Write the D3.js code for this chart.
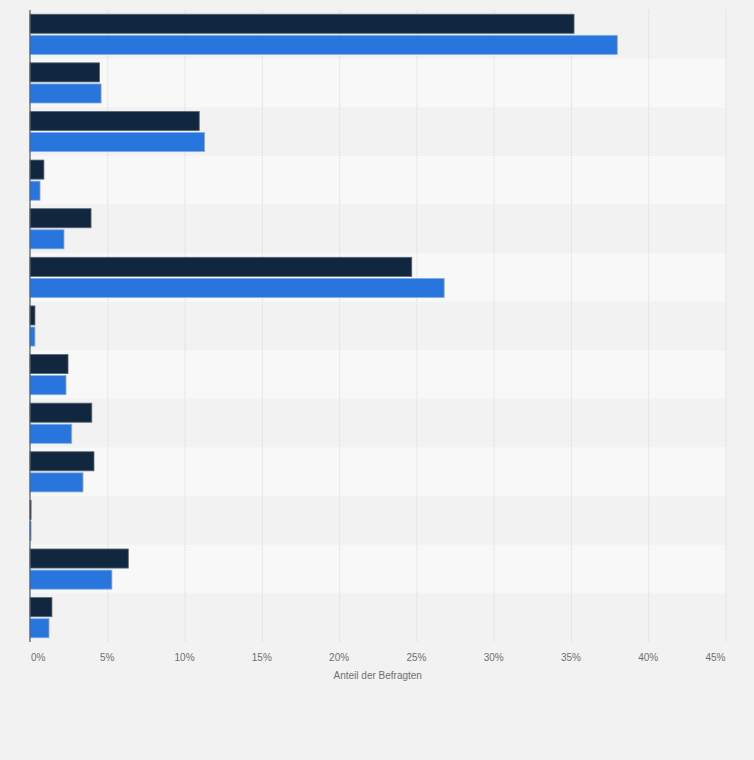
<!DOCTYPE html>
<html>
<head>
<meta charset="utf-8">
<script src="https://cdn.jsdelivr.net/npm/d3@7"></script>
<style>
  body { margin: 0; background: #f2f2f2; }
  svg { display: block; font-family: 'Liberation Sans', Arial, sans-serif; }
  .tick-label, .axis-title { fill: #6f6f6f; font-size: 10px; }
</style>
</head>
<body>
<div id="chart"></div>
<script>
// categories carry no visible labels in the source chart
const categories = ['K1', 'K2', 'K3', 'K4', 'K5', 'K6', 'K7', 'K8', 'K9', 'K10', 'K11', 'K12', 'K13'];
const seriesNames = ['Serie 1', 'Serie 2'];
const seriesDark = [35.2, 4.5, 10.95, 0.9, 3.95, 24.7, 0.32, 2.46, 4.0, 4.14, 0.07, 6.36, 1.42];
const seriesBlue = [38.0, 4.6, 11.3, 0.65, 2.2, 26.8, 0.32, 2.33, 2.7, 3.43, 0.07, 5.3, 1.23];
const tickValues = [0, 5, 10, 15, 20, 25, 30, 35, 40, 45];
const tickLabels = ['0%', '5%', '10%', '15%', '20%', '25%', '30%', '35%', '40%', '45%'];
const axisTitle = 'Anteil der Befragten';

const width = 754;
const height = 760;
const margin = { top: 10, right: 28.5, bottom: 118, left: 30 };
const colors = ['#10273f', '#2876dd'];
const strokes = ['#5b6878', '#7fb0ef'];

const svg = d3.select('#chart')
  .append('svg')
  .attr('width', width)
  .attr('height', height)
  .attr('viewBox', `0 0 ${width} ${height}`);

svg.append('rect')
  .attr('width', width)
  .attr('height', height)
  .attr('fill', '#f2f2f2');

const innerW = width - margin.left - margin.right;
const innerH = height - margin.top - margin.bottom;

const x = d3.scaleLinear()
  .domain([0, 45])
  .range([margin.left, margin.left + innerW]);

const y = d3.scaleBand()
  .domain(categories)
  .range([margin.top, margin.top + innerH])
  .padding(0);

const ySub = d3.scaleBand()
  .domain(seriesNames)
  .range([0, y.bandwidth()])
  .paddingInner(0.095)
  .paddingOuter(0.2);

const rows = categories.map((c, i) => ({
  category: c,
  values: [
    { series: seriesNames[0], value: seriesDark[i], idx: 0 },
    { series: seriesNames[1], value: seriesBlue[i], idx: 1 },
  ],
}));

// alternating row bands
svg.append('g')
  .selectAll('rect')
  .data(categories)
  .join('rect')
  .attr('x', x(0))
  .attr('y', d => y(d))
  .attr('width', x(45) - x(0))
  .attr('height', y.bandwidth())
  .attr('fill', (d, i) => i % 2 === 0 ? '#f2f2f2' : '#f8f8f8');

// dotted grid lines
svg.append('g')
  .selectAll('line')
  .data(tickValues.filter(t => t > 0))
  .join('line')
  .attr('x1', d => x(d) + 0.5)
  .attr('x2', d => x(d) + 0.5)
  .attr('y1', margin.top)
  .attr('y2', margin.top + innerH)
  .attr('stroke', '#d8d8d8')
  .attr('stroke-width', 1)
  .attr('stroke-dasharray', '1,1');

// bars
const groups = svg.append('g')
  .selectAll('g')
  .data(rows)
  .join('g')
  .attr('transform', d => `translate(0, ${y(d.category)})`);

groups.selectAll('rect')
  .data(d => d.values)
  .join('rect')
  .attr('x', x(0))
  .attr('y', d => ySub(d.series))
  .attr('width', d => Math.max(x(d.value) - x(0), 0.8))
  .attr('height', ySub.bandwidth())
  .attr('fill', d => colors[d.idx])
  .attr('stroke', d => strokes[d.idx])
  .attr('stroke-width', 0.8);

// left axis line
svg.append('line')
  .attr('x1', x(0))
  .attr('x2', x(0))
  .attr('y1', margin.top)
  .attr('y2', margin.top + innerH)
  .attr('stroke', '#555')
  .attr('stroke-width', 1.2);

// x tick labels
const last = tickValues.length - 1;
svg.append('g')
  .selectAll('text')
  .data(tickValues)
  .join('text')
  .attr('class', 'tick-label')
  .attr('x', (d, i) => i === 0 ? x(d) + 1 : x(d))
  .attr('y', margin.top + innerH + 19)
  .attr('text-anchor', (d, i) => i === 0 ? 'start' : i === last ? 'end' : 'middle')
  .text((d, i) => tickLabels[i]);

svg.append('text')
  .attr('class', 'axis-title')
  .attr('x', (x(0) + x(45)) / 2)
  .attr('y', margin.top + innerH + 37)
  .attr('text-anchor', 'middle')
  .text(axisTitle);
</script>
</body>
</html>
